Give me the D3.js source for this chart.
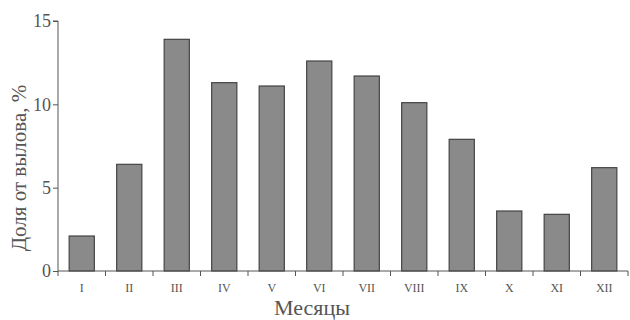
<!DOCTYPE html>
<html>
<head>
<meta charset="utf-8">
<script src="https://cdn.jsdelivr.net/npm/d3@7"></script>
<style>
  body { margin: 0; background: #fff; }
  text { font-family: "Liberation Serif", "DejaVu Serif", serif; fill: #555; }
</style>
</head>
<body>
<svg id="canvas" width="630" height="320"></svg>
<script>
let months = ["I", "II", "III", "IV", "V", "VI", "VII", "VIII", "IX", "X", "XI", "XII"]
let shares = [2.1, 6.4, 13.9, 11.3, 11.1, 12.6, 11.7, 10.1, 7.9, 3.6, 3.4, 6.2]
let yTicks = [0, 5, 10, 15]

let canvas = d3.select('#canvas')

let plotLeft = 58, plotRight = 628, plotTop = 21, plotBottom = 271

let x = d3.scaleBand().domain(months).range([plotLeft, plotRight]).paddingInner(0.47).paddingOuter(0.235)
let y = d3.scaleLinear().domain([0, 15]).range([plotBottom, plotTop])

// bars
canvas.append('g')
  .selectAll('rect')
  .data(shares)
  .enter()
  .append('rect')
  .attr('x', (d, i) => x(months[i]))
  .attr('y', d => y(d))
  .attr('width', x.bandwidth())
  .attr('height', d => y(0) - y(d))
  .attr('fill', '#8a8a8a')
  .attr('stroke', '#444')
  .attr('stroke-width', 1.2)

// y axis
let yAxis = canvas.append('g')
  .attr('transform', `translate(${plotLeft},0)`)
  .call(d3.axisLeft(y).tickValues(yTicks).tickSize(5).tickPadding(2))
yAxis.select('.domain').attr('stroke', '#555').attr('d', `M-5,${plotTop}H0V${plotBottom + 5}`)
yAxis.selectAll('.tick line').attr('stroke', '#555')
yAxis.selectAll('.tick text').attr('font-size', 18).attr('fill', '#666')

// x axis: ticks at band boundaries
let step = x.step()
let boundaries = d3.range(1, months.length + 1).map(i => plotLeft + i * step)
let xAxis = canvas.append('g')
xAxis.append('line')
  .attr('x1', plotLeft).attr('x2', plotRight)
  .attr('y1', plotBottom).attr('y2', plotBottom)
  .attr('stroke', '#555')
xAxis.selectAll('.bt')
  .data(boundaries)
  .enter()
  .append('line')
  .attr('x1', d => d).attr('x2', d => d)
  .attr('y1', plotBottom).attr('y2', plotBottom + 5)
  .attr('stroke', '#555')
xAxis.selectAll('.lbl')
  .data(months)
  .enter()
  .append('text')
  .attr('x', d => x(d) + x.bandwidth() / 2)
  .attr('y', 292)
  .attr('text-anchor', 'middle')
  .attr('font-size', 12)
  .text(d => d)

// axis titles
canvas.append('text')
  .attr('x', 312)
  .attr('y', 315)
  .attr('text-anchor', 'middle')
  .attr('font-size', 22)
  .text('Месяцы')

canvas.append('text')
  .attr('transform', 'translate(26,168) rotate(-90)')
  .attr('text-anchor', 'middle')
  .attr('font-size', 21)
  .text('Доля от вылова, %')
</script>
</body>
</html>
